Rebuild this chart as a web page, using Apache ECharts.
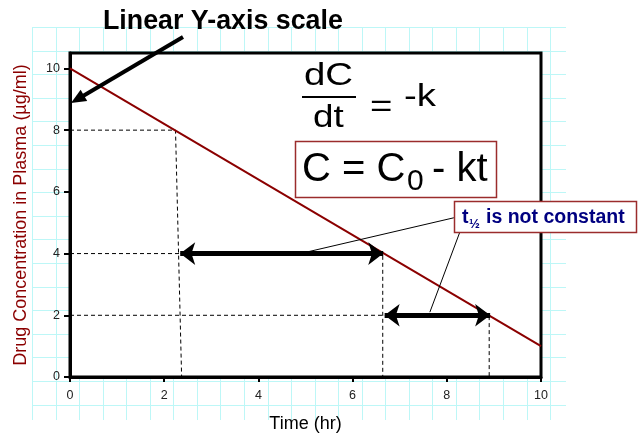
<!DOCTYPE html>
<html>
<head>
<meta charset="utf-8">
<title>Linear Y-axis scale</title>
<script src="https://cdn.jsdelivr.net/npm/echarts@6/dist/echarts.min.js"></script>
<style>
  html, body { margin: 0; padding: 0; background: #fff; }
  #chart { width: 639px; height: 438px; }
</style>
</head>
<body>
<div id="chart"></div>
<script>
// values
const timeTicks = [0, 2, 4, 6, 8, 10];
const concTicks = [0, 2, 4, 6, 8, 10];
const lineTime = [0, 10];
const lineConc = [10, 1];
// dashed guides: concentration level, time where it meets the line, time at the x axis
const guideConc = [8, 4, 2];
const guideTimeTop = [2.24, 6.64, 8.9];
const guideTimeBottom = [2.37, 6.64, 8.9];
// double arrows showing the two half-lives
const halfLifeStart = [2.34, 6.68];
const halfLifeEnd = [6.65, 8.92];
const halfLifeConc = [4, 2];
// leader lines from the "t1/2 is not constant" box to the arrows
const leaderFrom = [[8.15, 5.16], [8.28, 4.71]];
const leaderTo = [[5.03, 4.05], [7.64, 2.1]];

const darkRed = '#8b0000';
const boxRed = '#9b2c2c';
const navy = '#000080';

// graph-paper background behind the plot
const paper = [];
for (let k = 0; k <= 22; k++) {
  const x = Math.round(32 + 23.55 * k) + 0.5;
  paper.push({ type: 'line', z: -5, silent: true,
    shape: { x1: x, y1: 27, x2: x, y2: 420 },
    style: { stroke: '#bdf7f7', lineWidth: 1 } });
}
for (let k = 0; k <= 16; k++) {
  const y = Math.round(27 + 23.6 * k) + 0.5;
  paper.push({ type: 'line', z: -5, silent: true,
    shape: { x1: 32, y1: y, x2: 566, y2: y },
    style: { stroke: '#bdf7f7', lineWidth: 1 } });
}

function headPoints(tip, tail, len, half) {
  const dx = tip[0] - tail[0], dy = tip[1] - tail[1];
  const d = Math.sqrt(dx * dx + dy * dy);
  const ux = dx / d, uy = dy / d;
  const bx = tip[0] - ux * len, by = tip[1] - uy * len;
  return [tip, [bx - uy * half, by + ux * half], [bx + uy * half, by - ux * half]];
}

function label(x, y, text, size, extra) {
  return Object.assign({
    type: 'text', x: x, y: y, z: 50, silent: true,
    style: { text: text, fontSize: size, fontFamily: 'Liberation Sans', fill: '#000',
      align: 'left', verticalAlign: 'middle' }
  }, extra || {});
}

const titleTip = [71, 103];
const titleTail = [183, 37];

const notes = [
  label(103, 21.5, 'Linear Y-axis scale', 26.8),
  { type: 'line', z: 50, silent: true,
    shape: { x1: titleTail[0], y1: titleTail[1], x2: 83, y2: 96 },
    style: { stroke: '#000', lineWidth: 4 } },
  { type: 'polygon', z: 50, silent: true,
    shape: { points: headPoints(titleTip, titleTail, 15, 6.5) },
    style: { fill: '#000' } },

  label(304, 76.5, 'dC', 32, { scaleX: 1.2 }),
  { type: 'line', z: 50, silent: true,
    shape: { x1: 302, y1: 97, x2: 356, y2: 97 },
    style: { stroke: '#000', lineWidth: 2 } },
  label(313, 118.5, 'dt', 32, { scaleX: 1.15 }),
  label(370, 107, '=', 32, { scaleX: 1.2 }),
  label(404, 97.5, '-k', 32, { scaleX: 1.2 }),

  { type: 'rect', z: 50, silent: true,
    shape: { x: 295.5, y: 141.5, width: 201, height: 56 },
    style: { fill: 'none', stroke: boxRed, lineWidth: 1.5 } },
  label(302, 169.5, 'C = C', 40),
  label(407, 182, '0', 30),
  label(432, 169.5, '- kt', 40),

  { type: 'rect', z: 50, silent: true,
    shape: { x: 454.5, y: 201.5, width: 182, height: 31 },
    style: { fill: '#fff', stroke: boxRed, lineWidth: 1.5 } },
  label(462, 218, 't', 19.5, {}),
  label(469, 224, '\u00bd', 13, {}),
  label(486, 218, 'is not constant', 19.5, {})
];
notes[0].style.fontWeight = 'bold';
notes.slice(-3).forEach(n => { n.style.fontWeight = 'bold'; n.style.fill = navy; });

const guideSeries = guideConc.map((c, i) => ({
  type: 'line',
  silent: true,
  symbol: 'none',
  z: 2,
  data: [[0, c], [guideTimeTop[i], c], [guideTimeBottom[i], 0]],
  lineStyle: { color: '#000', width: 1, type: [4, 3] }
}));

const option = {
  animation: false,
  textStyle: { fontFamily: 'Liberation Sans' },
  graphic: paper.concat(notes),
  grid: {
    left: 70, top: 53, width: 471, height: 330,
    show: true, backgroundColor: '#fff', borderColor: '#000', borderWidth: 3
  },
  xAxis: {
    type: 'value', min: 0, max: 10, interval: 2,
    name: 'Time (hr)', nameLocation: 'middle', nameGap: 38,
    nameTextStyle: { fontSize: 18, color: '#000' },
    axisLine: { lineStyle: { color: '#000', width: 3 } },
    axisTick: { length: 5, lineStyle: { color: '#000', width: 2 }, customValues: timeTicks },
    axisLabel: { fontSize: 12.5, color: '#222', margin: 12, customValues: timeTicks },
    splitLine: { show: false }
  },
  yAxis: {
    type: 'value', min: 0, max: 10.5, interval: 2,
    name: 'Drug Concentration in Plasma (\u00b5g/ml)', nameLocation: 'middle', nameGap: 40,
    nameTextStyle: { fontSize: 18, color: darkRed },
    axisLine: { lineStyle: { color: '#000', width: 3 } },
    axisTick: { length: 6, lineStyle: { color: '#000', width: 2 }, customValues: concTicks },
    axisLabel: { fontSize: 12.5, color: '#222', margin: 10, customValues: concTicks },
    splitLine: { show: false }
  },
  series: guideSeries.concat([
    {
      type: 'line',
      silent: true,
      symbol: 'none',
      z: 3,
      data: lineTime.map((t, i) => [t, lineConc[i]]),
      lineStyle: { color: darkRed, width: 2 }
    },
    {
      type: 'line',
      silent: true,
      data: [],
      z: 4,
      markLine: {
        silent: true,
        animation: false,
        symbol: ['arrow', 'arrow'],
        symbolSize: [17, 15],
        label: { show: false },
        lineStyle: { color: '#000', width: 5, type: 'solid' },
        emphasis: { disabled: true },
        data: halfLifeConc.map((c, i) => [
          { coord: [halfLifeStart[i], c] },
          { coord: [halfLifeEnd[i], c] }
        ])
      }
    },
    {
      type: 'line',
      silent: true,
      data: [],
      z: 5,
      markLine: {
        silent: true,
        animation: false,
        symbol: ['none', 'none'],
        label: { show: false },
        lineStyle: { color: '#000', width: 1, type: 'solid' },
        emphasis: { disabled: true },
        data: leaderFrom.map((p, i) => [{ coord: p }, { coord: leaderTo[i] }])
      }
    }
  ])
};

const chart = echarts.init(document.getElementById('chart'));
chart.setOption(option);
</script>
</body>
</html>
